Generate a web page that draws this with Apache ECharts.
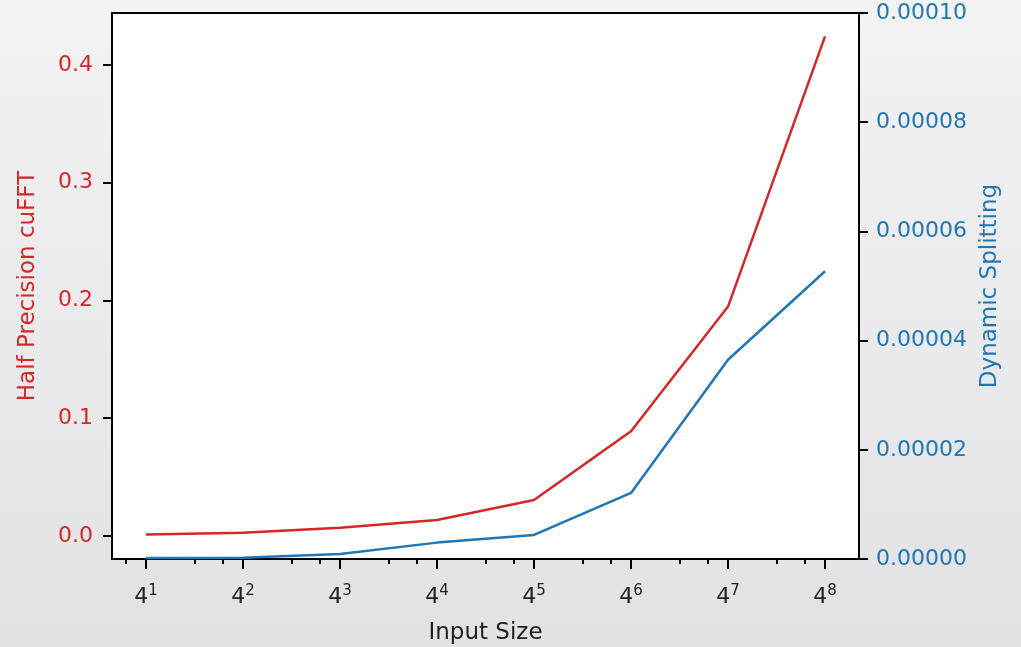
<!DOCTYPE html>
<html>
<head>
<meta charset="utf-8">
<script src="https://cdn.jsdelivr.net/npm/echarts@6/dist/echarts.min.js"></script>
<style>
  html, body { margin: 0; padding: 0; }
  #chart { width: 1021px; height: 647px; }
</style>
</head>
<body>
<div id="chart"></div>
<script>
// x positions are the exponents n of the input size 4^n
var sizeExponents = [1, 2, 3, 4, 5, 6, 7, 8];
var halfPrecision = [0.0014, 0.0028, 0.0070, 0.0136, 0.0306, 0.0890, 0.1948, 0.4242];
var dynamicSplitting = [0.0000002, 0.00000025, 0.0000009, 0.0000030, 0.0000044, 0.0000121, 0.0000365, 0.0000527];
var leftTicks = [0, 0.1, 0.2, 0.3, 0.4];

var RED = '#d62728', BLUE = '#1f77b4';
var FONT = 'DejaVu Sans';

// log-style minor ticks at 2*4^k and 3*4^k
var minorTicks = [];
for (var k = 0; k <= 8; k++) {
    [2, 3].forEach(function (m) {
        var v = k + Math.log(m) / Math.log(4);
        if (v > 0.65 && v < 8.35) minorTicks.push(v);
    });
}

function pairs(xs, ys) {
    return xs.map(function (x, i) { return [x, ys[i]]; });
}

var chart = echarts.init(document.getElementById('chart'));
chart.setOption({
    animation: false,
    backgroundColor: {
        type: 'linear', x: 0, y: 0, x2: 0, y2: 1,
        colorStops: [{ offset: 0, color: '#f3f3f4' }, { offset: 1, color: '#e2e2e5' }]
    },
    grid: {
        left: 112, top: 13, width: 747, height: 546,
        outerBoundsMode: 'none', containLabel: false,
        show: true, backgroundColor: '#ffffff', borderColor: '#000', borderWidth: 2
    },
    xAxis: [{
        type: 'value', min: 0.65, max: 8.35, position: 'bottom',
        name: 'Input Size', nameLocation: 'middle', nameGap: 63,
        nameTextStyle: { fontFamily: FONT, fontSize: 23, color: '#222' },
        axisLine: { show: false, onZero: false },
        splitLine: { show: false },
        axisTick: { show: true, customValues: sizeExponents, length: 10, lineStyle: { color: '#000', width: 2 } },
        axisLabel: {
            customValues: sizeExponents, margin: 25,
            formatter: function (v) { return '{b|4}{s|' + v + '}'; },
            rich: {
                b: { fontFamily: FONT, fontSize: 22, color: '#222', lineHeight: 26 },
                s: { fontFamily: FONT, fontSize: 15, color: '#222', verticalAlign: 'top', lineHeight: 24 }
            }
        }
    }, {
        type: 'value', min: 0.65, max: 8.35, position: 'bottom',
        axisLine: { show: false, onZero: false },
        splitLine: { show: false },
        axisLabel: { show: false },
        axisTick: { show: true, customValues: minorTicks, length: 5, lineStyle: { color: '#000', width: 2 } }
    }],
    yAxis: [{
        type: 'value', min: -0.0195, max: 0.444, position: 'left',
        name: 'Half Precision cuFFT', nameLocation: 'middle', nameGap: 72,
        nameTextStyle: { fontFamily: FONT, fontSize: 23, color: RED },
        axisLine: { show: false, onZero: false },
        splitLine: { show: false },
        axisTick: { show: true, customValues: leftTicks, length: 9, lineStyle: { color: '#000', width: 2 } },
        axisLabel: {
            customValues: leftTicks, margin: 19,
            fontFamily: FONT, fontSize: 22, color: RED,
            formatter: function (v) { return v.toFixed(1); }
        }
    }, {
        type: 'value', min: 0, max: 0.0001, interval: 0.00002, position: 'right',
        name: 'Dynamic Splitting', nameLocation: 'middle', nameGap: 120,
        nameTextStyle: { fontFamily: FONT, fontSize: 23, color: BLUE },
        axisLine: { show: false, onZero: false },
        splitLine: { show: false },
        axisTick: { show: true, length: 9, lineStyle: { color: '#000', width: 2 } },
        axisLabel: {
            margin: 17, fontFamily: FONT, fontSize: 22, color: BLUE,
            formatter: function (v) { return v.toFixed(5); }
        }
    }],
    series: [{
        name: 'Half Precision cuFFT', type: 'line', yAxisIndex: 0,
        showSymbol: false, symbol: 'none',
        lineStyle: { color: RED, width: 2.5 },
        data: pairs(sizeExponents, halfPrecision)
    }, {
        name: 'Dynamic Splitting', type: 'line', yAxisIndex: 1,
        showSymbol: false, symbol: 'none',
        lineStyle: { color: BLUE, width: 2.5 },
        data: pairs(sizeExponents, dynamicSplitting)
    }]
});
</script>
</body>
</html>
